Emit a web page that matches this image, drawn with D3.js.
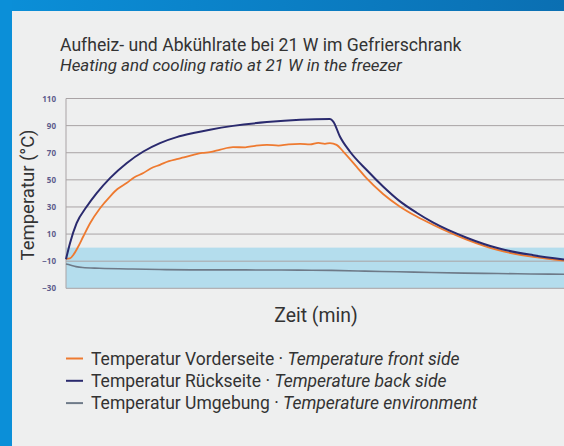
<!DOCTYPE html>
<html>
<head>
<meta charset="utf-8">
<script src="https://cdn.jsdelivr.net/npm/d3@7"></script>
<style>
  html, body { margin: 0; padding: 0; background: #eeefef; }
  svg { display: block; }
</style>
</head>
<body>
<div id="vis"></div>
<script>
// Data (time in minutes, arbitrary scale; temperature in °C)
var titleDe = 'Aufheiz- und Abkühlrate bei 21 W im Gefrierschrank';
var titleEn = 'Heating and cooling ratio at 21 W in the freezer';
var yTicks = [110, 90, 70, 50, 30, 10, -10, -30];

var backTime = [0, 2.4, 6.4, 12.5, 18.5, 26.5, 36.5, 46.6, 56.6, 66.7, 76.7, 86.7, 100.6, 121, 141, 159, 161, 165, 171, 181, 191, 201, 211, 221, 241, 261, 281.5, 300];
var backTemp = [-8.5, 3.3, 18, 30.3, 40.2, 51.3, 62.3, 70.9, 77.1, 81.5, 84.5, 87, 89.8, 92.6, 94.3, 94.8, 93, 82, 70.9, 57.4, 45.1, 34.3, 25.9, 18.6, 7.5, -0.7, -5.6, -8.8];

var frontTime = [0, 2.4, 4.4, 7.4, 10.4, 14.5, 20.5, 26.5, 31, 36.5, 41, 46.6, 51, 56.6, 62, 66.7, 71, 76.7, 82, 86.7, 93, 100.6, 108, 114, 121, 128, 134, 141, 147, 152, 156, 159, 163, 167, 175, 181, 191, 201, 211, 221, 241, 261, 281.5, 300];
var frontTemp = [-8.3, -8, -5.4, 0.8, 8.2, 18, 29.1, 37.7, 43.2, 47.6, 51.8, 55, 58.4, 61.1, 63.8, 65.3, 66.5, 68.4, 69.9, 70.4, 72.3, 74.1, 74.0, 75.1, 75.8, 75.3, 76.2, 76.6, 76.1, 77.3, 76.6, 77.1, 75.8, 70.9, 59.8, 51.2, 39.6, 30.4, 23.1, 16.9, 6.1, -2.1, -6.9, -9.6];

var envTime = [0, 3, 6, 10, 20, 40, 60, 80, 100, 120, 140, 160, 180, 200, 220, 240, 260, 280, 300];
var envTemp = [-12, -13, -14, -14.7, -15.2, -15.8, -16.2, -16.4, -16.4, -16.5, -16.6, -16.8, -17.3, -17.8, -18.3, -18.8, -19.1, -19.4, -19.6];

var bandRange = [-30, 0];

var seriesNames = [
  ['Temperatur Vorderseite · ', 'Temperature front side'],
  ['Temperatur Rückseite · ', 'Temperature back side'],
  ['Temperatur Umgebung · ', 'Temperature environment']
];
var seriesColors = ['#ee7a30', '#2a2a6e', '#6e7a88'];

var width = 564, height = 446;
var plot = { left: 66, right: 564, top: 98.5, bottom: 288.3 };

var svg = d3.select('#vis').append('svg')
  .attr('width', width)
  .attr('height', height);

// blue frame
var grad = svg.append('defs').append('linearGradient')
  .attr('id', 'topgrad').attr('x1', 0).attr('x2', 1).attr('y1', 0).attr('y2', 0);
grad.append('stop').attr('offset', 0).attr('stop-color', '#0b8fd8');
grad.append('stop').attr('offset', 1).attr('stop-color', '#0b6fb2');
svg.append('rect').attr('x', 0).attr('y', 0).attr('width', width).attr('height', 11).attr('fill', 'url(#topgrad)');
svg.append('rect').attr('x', 0).attr('y', 0).attr('width', 12).attr('height', height).attr('fill', '#0b8fd8');
svg.append('rect').attr('x', 12).attr('y', 11).attr('width', width - 12).attr('height', height - 11).attr('fill', '#eeefef');

var font = 'Roboto, "DejaVu Sans", sans-serif';

// titles
svg.append('text').attr('x', 60).attr('y', 51)
  .attr('font-family', font).attr('font-size', 17.6).attr('fill', '#333')
  .text(titleDe);
svg.append('text').attr('x', 60).attr('y', 71)
  .attr('font-family', font).attr('font-size', 16.9).attr('font-style', 'italic').attr('fill', '#333')
  .text(titleEn);

// scales
var x = d3.scaleLinear().domain([0, 300]).range([plot.left, plot.right]);
var y = d3.scaleLinear().domain([-30, 110]).range([plot.bottom, plot.top]);

var g = svg.append('g');

// cold band
g.append('rect')
  .attr('x', x(0))
  .attr('y', y(bandRange[1]))
  .attr('width', x(300) - x(0))
  .attr('height', y(bandRange[0]) - y(bandRange[1]))
  .attr('fill', '#b4dded');

// gridlines
g.selectAll('line.grid').data(yTicks).enter().append('line')
  .attr('class', 'grid')
  .attr('x1', x(0)).attr('x2', x(300))
  .attr('y1', function(d) { return y(d); })
  .attr('y2', function(d) { return y(d); })
  .attr('stroke', '#a9a3a5').attr('stroke-width', 1);

g.append('line')
  .attr('x1', x(0)).attr('x2', x(0))
  .attr('y1', y(110)).attr('y2', y(-30))
  .attr('stroke', '#a9a3a5').attr('stroke-width', 1);

// y axis labels
var yAxis = d3.axisLeft(y).tickValues(yTicks).tickSize(0).tickPadding(10);
var gy = svg.append('g').attr('transform', 'translate(' + x(0) + ',0)').call(yAxis);
gy.select('.domain').remove();
gy.selectAll('text')
  .attr('font-family', '"Open Sans", sans-serif')
  .attr('font-size', 8)
  .attr('font-weight', 'bold')
  .attr('fill', '#5d5c8c');

// lines
var line = d3.line()
  .x(function(d) { return x(d[0]); })
  .y(function(d) { return y(d[1]); })
  .curve(d3.curveMonotoneX);

function pairs(ts, vs) { return ts.map(function(t, i) { return [t, vs[i]]; }); }

g.append('path').datum(pairs(envTime, envTemp))
  .attr('d', line).attr('fill', 'none')
  .attr('stroke', seriesColors[2]).attr('stroke-width', 1.6);
g.append('path').datum(pairs(frontTime, frontTemp))
  .attr('d', line).attr('fill', 'none')
  .attr('stroke', seriesColors[0]).attr('stroke-width', 1.8);
g.append('path').datum(pairs(backTime, backTemp))
  .attr('d', line).attr('fill', 'none')
  .attr('stroke', seriesColors[1]).attr('stroke-width', 2);

// axis titles
svg.append('text')
  .attr('transform', 'translate(34,195) rotate(-90)')
  .attr('text-anchor', 'middle')
  .attr('font-family', font).attr('font-size', 18.5).attr('fill', '#333')
  .text('Temperatur (°C)');
svg.append('text')
  .attr('x', 316).attr('y', 322)
  .attr('text-anchor', 'middle')
  .attr('font-family', font).attr('font-size', 19.4).attr('fill', '#333')
  .text('Zeit (min)');

// legend
var legend = svg.append('g');
var rows = legend.selectAll('g').data(seriesNames).enter().append('g')
  .attr('transform', function(d, i) { return 'translate(0,' + (358.5 + i * 22.3) + ')'; });
rows.append('line')
  .attr('x1', 66).attr('x2', 83).attr('y1', 0).attr('y2', 0)
  .attr('stroke', function(d, i) { return seriesColors[i]; })
  .attr('stroke-width', 2);
var lt = rows.append('text')
  .attr('x', 91).attr('y', 6)
  .attr('font-family', font).attr('font-size', 17.5).attr('fill', '#333');
lt.append('tspan').text(function(d) { return d[0]; });
lt.append('tspan').attr('font-style', 'italic').text(function(d) { return d[1]; });
</script>
</body>
</html>
